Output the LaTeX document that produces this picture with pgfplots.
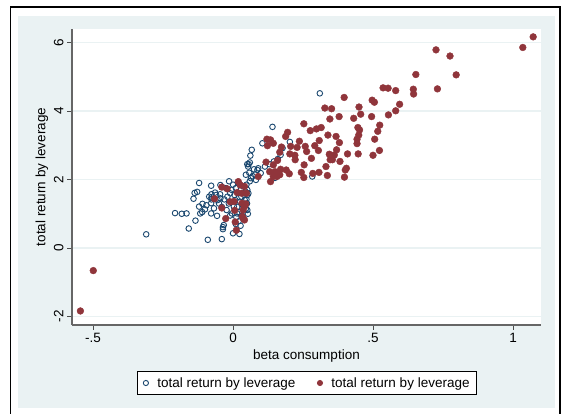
\documentclass[border=0pt]{standalone}
\usepackage{pgfplots}
\pgfplotsset{compat=1.18}
\usepackage{fontspec}
\setmainfont{Liberation Sans}
\definecolor{stnavy}{RGB}{26,71,111}
\definecolor{stmaroon}{RGB}{144,53,59}
\definecolor{stbg}{RGB}{234,242,243}
\definecolor{stgrid}{RGB}{234,242,243}
\newcommand\lbl{\fontsize{13.5}{16}\selectfont}
\begin{document}
\begin{tikzpicture}[x=1pt,y=1pt]
\useasboundingbox (0,0) rectangle (564,414);
\begin{scope}
\clip (0,0) rectangle (564,414);
\fill[white] (0,0) rectangle (564,414);
\draw[line width=1.2pt] (10.5,-5) -- (10.5,407) -- (560,407) -- (560,-5);
\fill[stbg] (18,6) rectangle (555,398);
\end{scope}
\begin{axis}[
  at={(72pt,89pt)}, anchor=south west,
  scale only axis, width=469pt, height=296pt,
  xmin=-0.575, xmax=1.1, ymin=-2.25, ymax=6.4,
  axis background/.style={fill=white},
  axis x line*=bottom, axis y line*=left,
  axis line style={black!60, line width=1.3pt},
  every outer x axis line/.append style={-}, every outer y axis line/.append style={-},
  xtick={-0.5,0,0.5,1}, xticklabels={-.5,0,.5,1},
  ytick={-2,0,2,4,6}, yticklabels={-2,0,2,4,6},
  tick align=outside, major tick length=5pt,
  tick style={black!70, line width=0.8pt},
  ymajorgrids, major grid style={stgrid, line width=1.5pt},
  ticklabel style={font=\lbl},
  yticklabel style={rotate=90, anchor=south, yshift=0pt},
  xlabel={beta consumption}, ylabel={total return by leverage},
  label style={font=\lbl},
  xlabel style={at={(axis description cs:0.5,-0.105)}, anchor=center},
  ylabel style={at={(axis description cs:-0.064,0.5)}, anchor=center, rotate=0},
  clip=false,
  legend style={at={(axis description cs:0.501,-0.196)}, anchor=center,
    draw=black, line width=0.8pt, fill=white, font=\lbl,
    legend columns=2, inner xsep=5pt, inner ysep=4pt,
    /tikz/every even column/.append style={column sep=19pt}},
  legend cell align=left,
  legend image code/.code={\path[draw=none,fill=none] (0pt,-1pt) rectangle (13pt,1pt); \draw[#1,mark size=2.6pt] plot coordinates {(3.5pt,0pt)};},
]
\addplot[only marks, mark=o, mark size=2.8pt, draw=stnavy, line width=0.9pt, mark options={line width=0.9pt}] coordinates {
(-0.310,0.40) (-0.207,1.02) (-0.183,1.00) (-0.166,1.01) (-0.158,0.57) (-0.134,0.80)
(-0.141,1.44) (-0.137,1.61) (-0.128,1.64) (-0.121,1.90) (-0.121,1.21) (-0.117,1.01)
(-0.109,1.29) (-0.100,1.13) (-0.090,0.24) (-0.078,1.82) (-0.077,1.57) (-0.077,1.48)
(-0.077,1.42) (-0.078,1.31) (-0.078,1.01) (-0.064,1.62) (-0.068,1.16) (-0.057,0.94)
(-0.045,1.84) (-0.046,1.57) (-0.040,0.26) (-0.036,0.55) (-0.033,0.67) (-0.036,0.61)
(-0.031,1.42) (-0.023,1.11) (-0.014,1.95) (-0.010,1.60) (-0.004,1.01) (0.000,0.43)
(0.023,0.41) (0.027,0.65) (0.003,1.21) (0.015,1.01) (0.051,1.70) (0.048,1.42)
(0.051,1.11) (0.046,2.14) (0.051,2.45) (0.054,2.38) (0.060,2.50) (0.062,2.70)
(0.067,2.87) (0.064,2.04) (0.082,1.99) (0.087,2.28) (0.090,2.33) (0.099,2.19)
(0.105,3.06) (0.114,2.38) (0.141,3.54) (0.146,2.53) (0.170,2.72) (0.177,2.92)
(0.203,3.10) (0.310,4.52) (0.283,2.09)
(-0.050,1.30) (-0.045,1.45) (-0.040,1.20) (-0.025,1.75) (-0.020,1.50) (-0.015,1.30)
(-0.010,0.95) (-0.005,1.70) (0.000,1.85) (0.005,1.55) (0.008,1.40) (0.010,1.75)
(0.012,0.90) (0.015,1.20) (0.018,1.60) (0.020,1.90) (0.022,1.05) (0.025,1.35)
(0.028,1.70) (0.030,1.50) (0.032,0.95) (0.035,1.25) (0.038,1.80) (0.040,1.55)
(0.042,1.40) (0.044,1.65) (0.046,1.15) (0.048,1.85) (0.050,1.30) (0.052,1.55)
(0.055,1.60) (0.053,1.00) (0.058,2.20) (0.056,2.45) (0.070,2.10) (0.075,2.30)
(0.080,2.15) (0.060,1.95) (-0.060,1.55) (-0.055,1.40) (-0.085,1.50) (-0.095,1.25)
(-0.110,1.05) (0.010,0.70) (0.020,0.78) (0.150,2.05) (0.160,2.60) (0.130,2.45)
};
\addlegendentry{total return by leverage}
\addplot[only marks, mark=*, mark size=3.4pt, draw=stmaroon, fill=stmaroon] coordinates {
(-0.545,-1.84) (-0.499,-0.66) (1.072,6.17) (1.035,5.86) (0.725,5.79) (0.775,5.61)
(0.797,5.06) (0.653,5.07) (0.730,4.65) (0.644,4.64) (0.645,4.50) (0.536,4.68)
(0.554,4.67) (0.581,4.60) (0.595,4.20) (0.581,4.01) (0.555,3.89) (0.524,3.59)
(0.517,3.41) (0.506,3.18) (0.523,2.85) (0.500,2.71) (0.497,4.32) (0.505,4.26)
(0.495,3.84) (0.397,4.40) (0.450,4.12) (0.456,3.91) (0.431,3.79) (0.379,3.84)
(0.352,4.07) (0.328,4.09) (0.346,3.77) (0.446,3.52) (0.452,3.45) (0.449,3.30)
(0.443,3.18) (0.443,3.05) (0.447,2.75) (0.409,2.75) (0.401,2.28) (0.405,2.33)
(0.398,2.07) (0.380,3.08) (0.368,3.26) (0.370,2.87) (0.362,2.72) (0.355,2.58)
(0.382,2.53) (0.339,3.30) (0.315,3.52) (0.298,3.48) (0.276,3.43) (0.253,3.63)
(0.308,3.14) (0.292,2.99) (0.305,2.85) (0.280,2.62) (0.344,2.74) (0.347,2.58)
(0.332,2.38) (0.337,2.12) (0.307,2.21) (0.285,2.18) (0.258,2.97) (0.263,2.82)
(0.254,2.43) (0.253,2.06) (0.244,2.21) (0.237,3.12) (0.229,2.94) (0.221,2.71)
(0.222,2.58) (0.206,2.97) (0.203,2.75) (0.201,2.17) (0.195,3.38) (0.188,3.26)
(0.173,2.95) (0.167,2.80) (0.159,2.56) (0.170,2.30) (0.190,2.28) (0.121,3.18)
(0.134,3.16) (0.144,3.06) (0.123,2.99) (0.118,2.51) (0.144,2.43) (0.134,1.94)
(0.144,2.09) (0.157,2.09) (0.131,2.23) (0.150,2.23) (0.167,2.14) (0.090,2.09)
(-0.066,1.44) (-0.040,1.78) (-0.021,1.73) (-0.040,1.17) (-0.026,0.86) (-0.010,1.35)
(0.004,1.36) (0.006,1.10) (0.008,0.76) (0.012,0.52) (0.019,1.94) (0.026,1.84)
(0.015,1.62) (0.031,1.60) (0.041,1.80) (0.048,1.60) (0.032,1.31) (0.041,1.21)
(0.046,1.29) (0.036,1.11) (0.037,0.86) (0.033,0.92) (0.041,0.82)
};
\addlegendentry{total return by leverage}
\end{axis}
\end{tikzpicture}
\end{document}
